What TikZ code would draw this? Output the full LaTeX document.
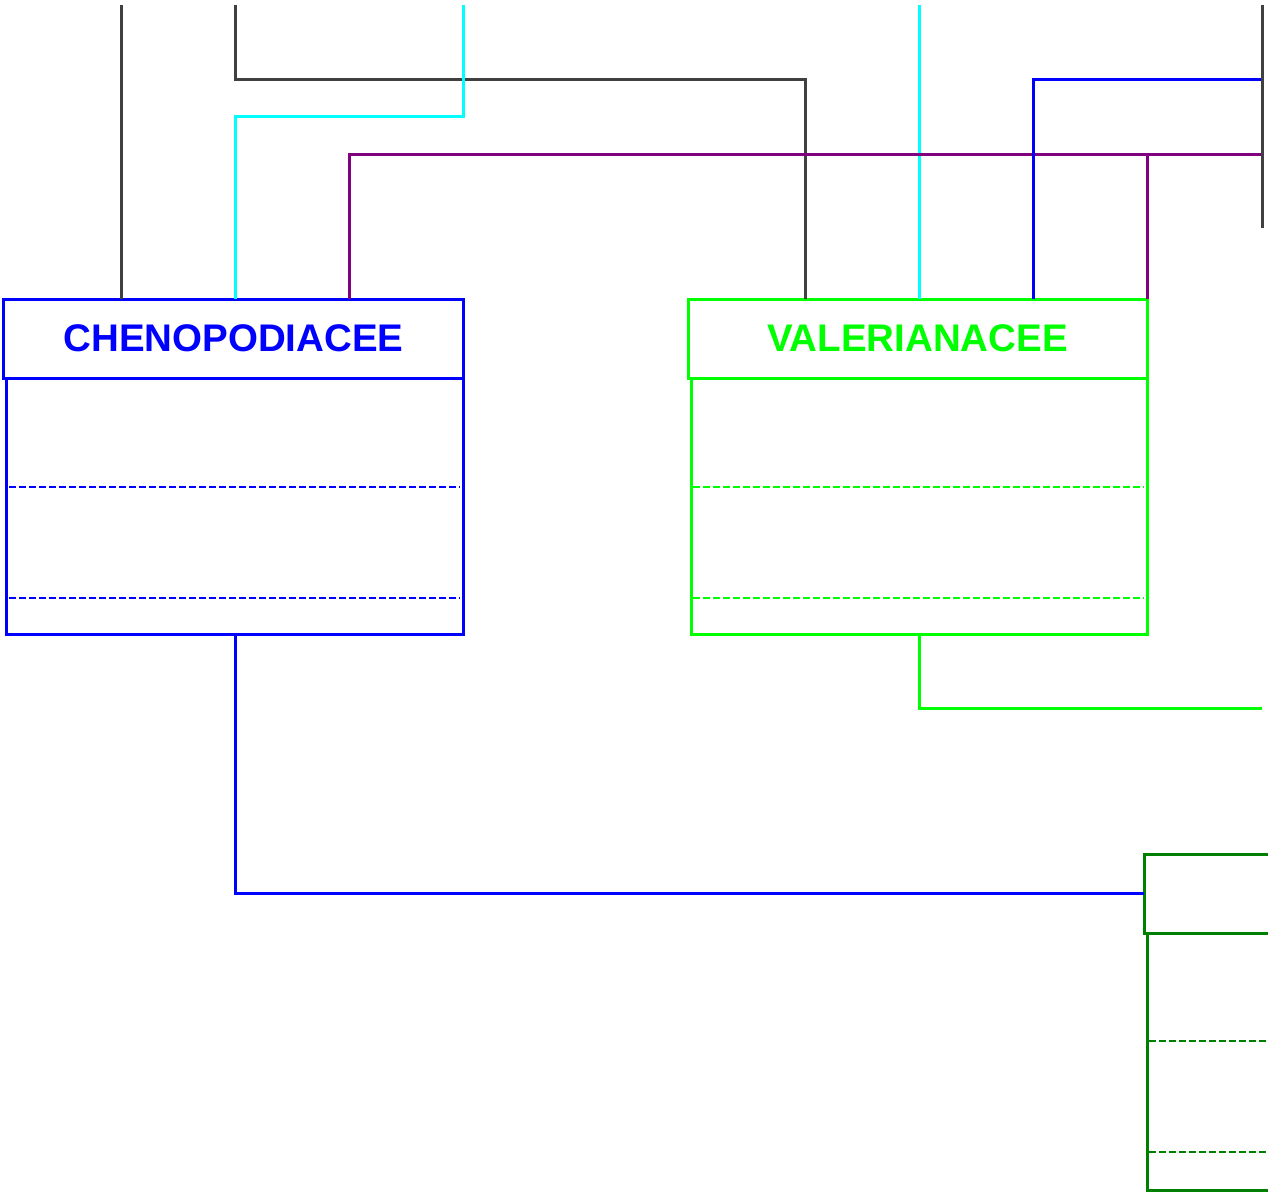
\documentclass[tikz,border=0pt]{standalone}
\usepackage{fontspec}
\setmainfont{Liberation Sans}
\definecolor{famblue}{RGB}{0,0,255}
\definecolor{famgreen}{RGB}{0,255,0}
\definecolor{famdkgreen}{RGB}{0,128,0}
\definecolor{linkgray}{RGB}{64,64,64}
\definecolor{linkcyan}{RGB}{0,255,255}
\definecolor{linkpurple}{RGB}{128,0,128}
\begin{document}
\begin{tikzpicture}[
  x=1bp, y=-1bp,
  classhead/.style={rectangle,draw=#1,text=#1,line width=3bp,outer sep=0pt,minimum width=459bp,
    minimum height=79bp,inner sep=0pt,font=\fontsize{38.5bp}{40bp}\selectfont\bfseries},
  classbody/.style={rectangle,draw=#1,line width=3bp,outer sep=0pt,minimum width=456bp,
    minimum height=256bp,inner sep=0pt},
  sepline/.style={color=#1,line width=1.4bp,dash pattern=on 7bp off 3bp},
  linkline/.style={color=#1,line width=3bp}
]
  \useasboundingbox (0,0) rectangle (1268,1194);

  % family boxes
  \node[classhead=famblue] (cheno) at (233.5,338.5) {CHENOPODIACEE};
  \node[classbody=famblue] (chenobody) at (235,506) {};
  \node[classhead=famgreen] (val) at (917.5,338.5) {VALERIANACEE};
  \node[classbody=famgreen] (valbody) at (919,506) {};
  \node[classhead=famdkgreen] (fam) at (1373.5,893.5) {};
  \node[classbody=famdkgreen,minimum height=257bp] (fambody) at (1375,1061.5) {};

  \draw[sepline=famblue] ([xshift=2bp,yshift=-109bp]chenobody.north west) -- ([xshift=-3bp,yshift=-109bp]chenobody.north east);
  \draw[sepline=famblue] ([xshift=2bp,yshift=-220bp]chenobody.north west) -- ([xshift=-3bp,yshift=-220bp]chenobody.north east);
  \draw[sepline=famgreen] ([xshift=2bp,yshift=-109bp]valbody.north west) -- ([xshift=-3bp,yshift=-109bp]valbody.north east);
  \draw[sepline=famgreen] ([xshift=2bp,yshift=-220bp]valbody.north west) -- ([xshift=-3bp,yshift=-220bp]valbody.north east);
  \draw[sepline=famdkgreen] ([xshift=2bp,yshift=-108bp]fambody.north west) -- ([xshift=-3bp,yshift=-108bp]fambody.north east);
  \draw[sepline=famdkgreen] ([xshift=2bp,yshift=-219bp]fambody.north west) -- ([xshift=-3bp,yshift=-219bp]fambody.north east);

  % free ends
  \coordinate (g1) at (121,5);
  \coordinate (g2) at (235,5);
  \coordinate (c1) at (463,5);
  \coordinate (c2) at (919,5);
  \coordinate (grtop) at (1262,5);
  \coordinate (grbot) at (1262,228);
  \coordinate (b1) at (1262,79);
  \coordinate (p1) at (1262,154);
  \coordinate (gn) at (1262,708);

  % links
  \draw[linkline=linkgray] (g1) -- (g1 |- cheno.north);
  \draw[linkline=linkgray] (g2) -- (g2 |- b1) -| ([xshift=117bp]val.north west);
  \draw[linkline=linkcyan] (c1) -- ++(0,111) -| ([xshift=1.5bp]cheno.north);
  \draw[linkline=linkcyan] (c2) -- (c2 |- val.north);
  \draw[linkline=linkpurple] ([xshift=115.5bp]cheno.north) |- (p1);
  \draw[linkline=linkpurple] (val.north east) -- (val.north east |- p1);
  \draw[linkline=famblue] ([xshift=115.5bp]val.north) |- (b1);
  \draw[linkline=linkgray] (grtop) -- (grbot);
  \draw[linkline=famgreen] (valbody.south) |- (gn);
  \draw[linkline=famblue] (chenobody.south) |- (fam.west);
\end{tikzpicture}
\end{document}
